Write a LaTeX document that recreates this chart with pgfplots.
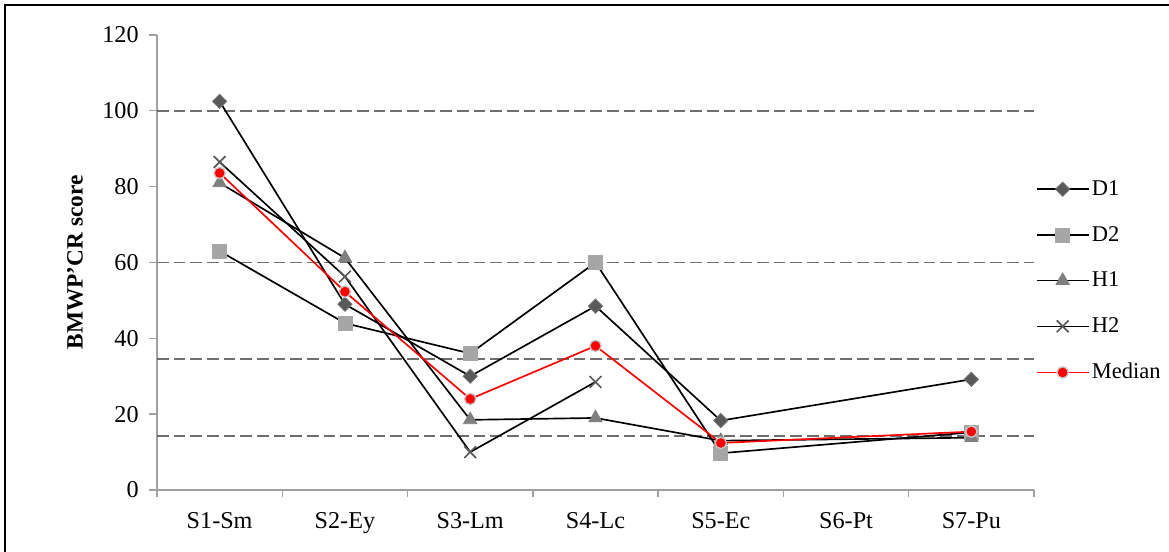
\documentclass[border=0pt]{standalone}
\usepackage{fontspec}
\setmainfont{Liberation Serif}
\usepackage{pgfplots}
\pgfplotsset{compat=1.18}
\definecolor{dgray}{HTML}{595959}
\definecolor{lgray}{HTML}{A6A6A6}
\definecolor{mgray}{HTML}{7F7F7F}
\definecolor{axgray}{HTML}{A0A0A0}
\definecolor{refgray}{HTML}{6E6E6E}
\begin{document}
\begin{tikzpicture}
\useasboundingbox (-94.2pt,-37.2pt) rectangle (607.2pt,294pt);
\draw[line width=1.2pt] (-91.2pt,-37.2pt) -- (-91.2pt,291pt) -- (607.2pt,291pt);
\begin{axis}[
  at={(0,0)}, anchor=south west,
  scale only axis, width=526.2pt, height=273pt,
  xmin=-0.5, xmax=6.5, ymin=0, ymax=120,
  axis lines=left,
  axis line style={-, draw=axgray, line width=0.8pt},
  tick align=outside,
  major tick length=4.5pt,
  tick style={draw=axgray, line width=0.8pt},
  xtick={-0.5,0.5,1.5,2.5,3.5,4.5,5.5,6.5},
  xticklabels={},
  extra x ticks={0,1,2,3,4,5,6},
  extra x tick labels={S1-Sm,S2-Ey,S3-Lm,S4-Lc,S5-Ec,S6-Pt,S7-Pu},
  extra x tick style={major tick length=0pt, tick label style={yshift=-10pt}},
  ytick={0,20,40,60,80,100,120},
  tick label style={font=\fontsize{14.5pt}{17pt}\selectfont},
  yticklabel style={xshift=-3pt},
  /pgf/number format/assume math mode=true,
  ylabel={\textbf{BMWP’CR score}},
  ylabel style={at={(axis description cs:-0.0935,0.5)}, anchor=center, font=\fontsize{14pt}{16pt}\selectfont},
  legend style={at={(axis description cs:1.0,0.69)}, anchor=north west, draw=none, fill=none,
    font=\fontsize{13.5pt}{16pt}\selectfont, row sep=14pt, inner sep=1pt,
    nodes={inner sep=1.5pt}},
  legend cell align=left,
  legend image code/.code={\draw[mark repeat=2,mark phase=2,#1] plot coordinates {(0pt,0pt) (15.5pt,0pt) (31pt,0pt)};},
]
% reference lines
\addplot[forget plot, refgray, line width=0.9pt, dash pattern=on 7pt off 3pt] coordinates {(-0.5,100) (6.5,100)};
\addplot[forget plot, refgray, line width=0.9pt, dash pattern=on 7pt off 3pt] coordinates {(-0.5,60) (6.5,60)};
\addplot[forget plot, refgray, line width=0.9pt, dash pattern=on 7pt off 3pt] coordinates {(-0.5,34.5) (6.5,34.5)};
\addplot[forget plot, refgray, line width=0.9pt, dash pattern=on 7pt off 3pt] coordinates {(-0.5,14.3) (6.5,14.3)};
% D1
\addplot[black, line width=1pt, mark=square*, mark size=3pt,
  mark options={rotate=45, fill=dgray, draw=dgray!85, solid, line width=0.5pt}]
  coordinates {(0,102.5) (1,49) (2,30) (3,48.5) (4,18.3) (6,29.2)};
\addlegendentry{D1}
% D2
\addplot[black, line width=1pt, mark=square*, mark size=4.2pt,
  mark options={fill=lgray, draw=lgray, solid, line width=0.5pt}]
  coordinates {(0,63) (1,44) (2,36) (3,60) (4,9.7) (6,15.2)};
\addlegendentry{D2}
% H1
\addplot[black, line width=1pt, mark=triangle*, mark size=4.6pt,
  mark options={fill=mgray, draw=mgray, solid, line width=0.5pt}]
  coordinates {(0,81) (1,61.2) (2,18.5) (3,19) (4,13) (6,13.8)};
\addlegendentry{H1}
% H2
\addplot[black, line width=1pt, mark=x, mark size=5pt,
  mark options={draw=dgray, solid, line width=1pt}]
  coordinates {(0,86.5) (1,56.3) (2,10) (3,28.5)};
\addlegendentry{H2}
% Median
\addplot[red, line width=1pt, mark=*, mark size=3.4pt,
  mark options={fill=red, draw=gray!45, solid, line width=0.8pt}]
  coordinates {(0,83.6) (1,52.3) (2,24) (3,38) (4,12.4) (6,15.4)};
\addlegendentry{Median}
\end{axis}
\end{tikzpicture}
\end{document}
